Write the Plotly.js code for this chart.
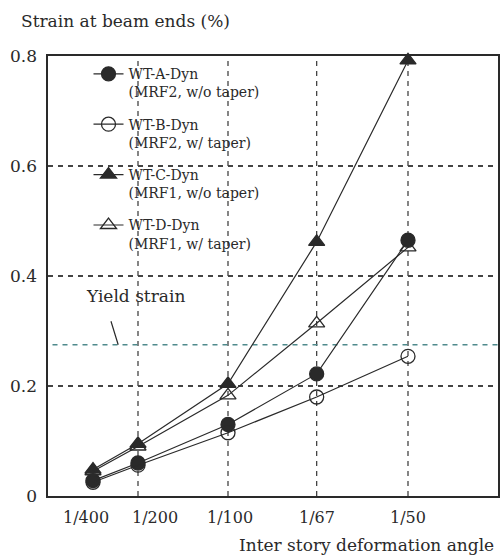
<!DOCTYPE html>
<html>
<head>
<meta charset="utf-8">
<script src="https://cdn.plot.ly/plotly-3.0.1.min.js"></script>
<style>html,body{margin:0;padding:0;background:#fff;}#chart{width:502px;height:560px;}</style>
</head>
<body>
<div id="chart"></div>
<script>
// Inter story deformation angle (as fractions) and their labels
const angles = [1/400, 1/200, 1/100, 1/67, 1/50];
const angleLabels = ["1/400", "1/200", "1/100", "1/67", "1/50"];
const gridAngles = [1/200, 1/100, 1/67, 1/50];

// Strain at beam ends (%)
const wtA = [0.028, 0.060, 0.130, 0.222, 0.465];
const wtB = [0.025, 0.056, 0.115, 0.180, 0.254];
const wtC = [0.048, 0.095, 0.204, 0.462, 0.792];
const wtD = [0.045, 0.090, 0.183, 0.314, 0.452];

const seriesNames = [
  "WT-A-Dyn<br>(MRF2, w/o taper)",
  "WT-B-Dyn<br>(MRF2, w/ taper)",
  "WT-C-Dyn<br>(MRF1, w/o taper)",
  "WT-D-Dyn<br>(MRF1, w/ taper)"
];
const yieldStrain = [0.275];
const yTicks = [0, 0.2, 0.4, 0.6, 0.8];
const yTickLabels = ["0", "0.2", "0.4", "0.6", "0.8"];

// style: horizontal nudges (px) of the x tick labels, as in the original print
const labelNudge = [-7, 17, 2, 0, 0];

const ink = "#2a2a2a";
const gridInk = "#444444";
const font = "DejaVu Serif";

function trace(y, name, symbol, i) {
  return {
    x: angles, y: y, name: name, type: "scatter", mode: "lines+markers",
    legendgroup: "g" + i,
    line: {color: ink, width: 1.2},
    marker: {symbol: symbol, size: 14, color: ink, line: {color: ink, width: 1.3}},
    cliponaxis: false
  };
}

const data = [
  trace(wtA, seriesNames[0], "circle", 0),
  trace(wtB, seriesNames[1], "circle-open", 1),
  trace(wtC, seriesNames[2], "triangle-up", 2),
  trace(wtD, seriesNames[3], "triangle-up-open", 3)
];

const shapes = gridAngles.map(a => ({
  type: "line", xref: "x", yref: "paper", x0: a, x1: a, y0: 0, y1: 1,
  line: {color: gridInk, width: 1.3, dash: "5px,5px"}, layer: "below"
}));
yieldStrain.forEach(v => shapes.push({
  type: "line", xref: "paper", yref: "y", x0: 0.01, x1: 1, y0: v, y1: v,
  line: {color: "#4f8a8c", width: 1.4, dash: "5px,5px"}, layer: "below"
}));

const tickAnns = angles.map((a, i) => ({
  xref: "x", yref: "paper", x: a, y: 0, yanchor: "top", xanchor: "center",
  yshift: -10, xshift: labelNudge[i],
  text: angleLabels[i], showarrow: false, font: {family: font, size: 16, color: ink}
}));

const layout = {
  width: 502, height: 560,
  margin: {l: 48, r: 4, t: 56, b: 64},
  paper_bgcolor: "#fff", plot_bgcolor: "#fff",
  font: {family: font, color: ink, size: 16},
  showlegend: true,
  legend: {
    x: 0.09, y: 0.995, xanchor: "left", yanchor: "top",
    bgcolor: "rgba(0,0,0,0)", borderwidth: 0,
    font: {family: font, size: 14, color: ink},
    valign: "top", tracegroupgap: 11, itemwidth: 30
  },
  xaxis: {
    range: [0, 0.025], tickvals: angles, showticklabels: false,
    showgrid: false, zeroline: false, ticks: "",
    showline: true, mirror: true, linecolor: ink, linewidth: 1.6
  },
  yaxis: {
    range: [0, 0.8], tickvals: yTicks, ticktext: yTickLabels,
    showgrid: true, gridcolor: gridInk, gridwidth: 1.2, griddash: "5px,5px",
    zeroline: false, ticks: "",
    showline: true, mirror: true, linecolor: ink, linewidth: 1.6,
    ticklabelstandoff: 6,
    tickfont: {family: font, size: 17, color: ink}
  },
  shapes: shapes,
  annotations: tickAnns.concat([
    {xref: "paper", yref: "paper", x: -0.064, y: 1.08, xanchor: "left", yanchor: "middle",
     text: "Strain at beam ends (%)", showarrow: false, font: {family: font, size: 17, color: ink}},
    {xref: "paper", yref: "paper", x: 0.995, y: -0.112, xanchor: "right", yanchor: "middle",
     text: "Inter story deformation angle", showarrow: false, font: {family: font, size: 17, color: ink}},
    {xref: "paper", yref: "paper", x: 0.08, y: 0.455, xanchor: "left", yanchor: "middle",
     text: "Yield strain", showarrow: false, font: {family: font, size: 17, color: ink}},
    {xref: "x", yref: "y", x: 0.0039, y: yieldStrain[0], ax: -8, ay: -26,
     text: " ", showarrow: true, arrowhead: 0, arrowwidth: 1.2, arrowcolor: ink,
     font: {size: 2}}
  ])
};

Plotly.newPlot("chart", data, layout, {displayModeBar: false, staticPlot: true});
</script>
</body>
</html>
